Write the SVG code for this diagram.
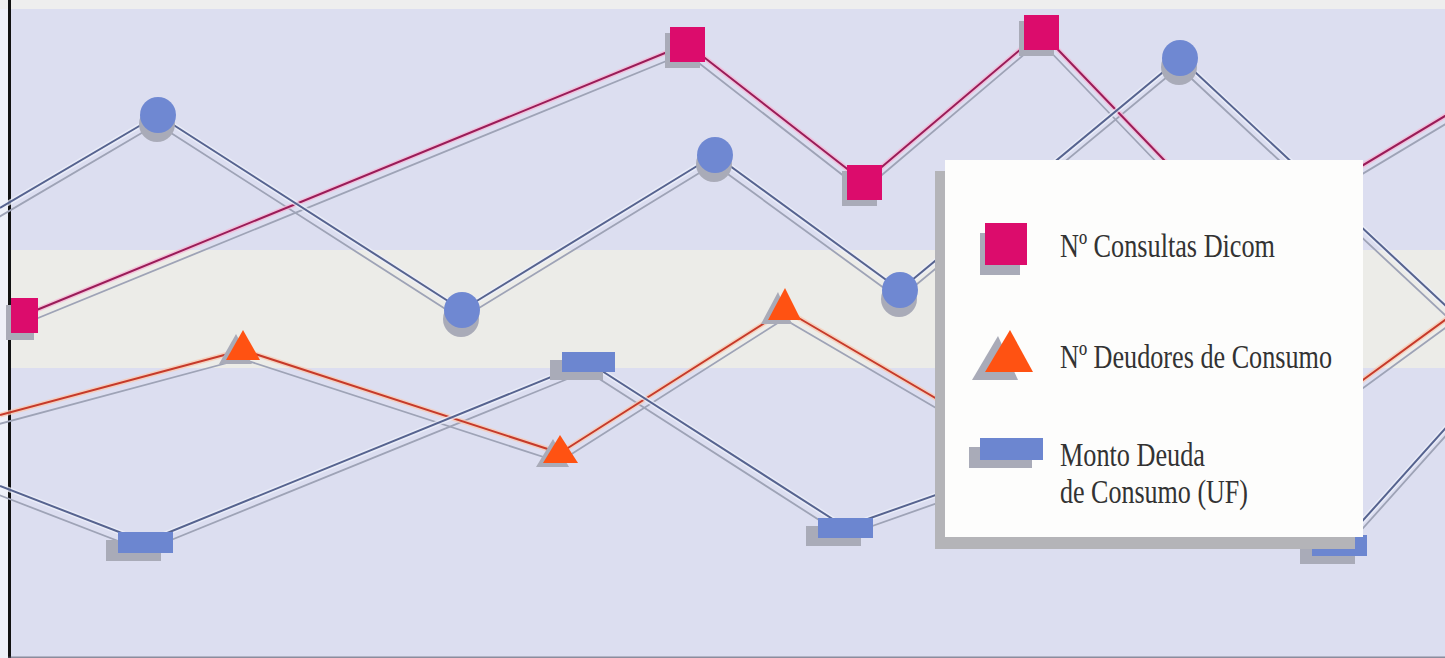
<svg xmlns="http://www.w3.org/2000/svg" width="1445" height="658" viewBox="0 0 1445 658">
  <style>
    .core { fill: none; stroke-width: 2; stroke-linejoin: round; }
    .halo { fill: none; stroke-width: 5; stroke-linejoin: round; opacity: 0.75; }
    .shade { fill: none; stroke: #9ea3b6; stroke-width: 1.8; stroke-linejoin: round; }
    .pk { stroke: #9a1c58; }
    .pkh { stroke: #f6b6d4; }
    .bl { stroke: #56638f; }
    .blh { stroke: #eef0fb; }
    .or { stroke: #c63a2a; }
    .orh { stroke: #f9c8b0; }
    .sq { fill: #dc0c6c; }
    .ci { fill: #6f88d2; }
    .tr { fill: #ff5212; }
    .re { fill: #6c86d0; }
    .sh { fill: #a9abb8; }
    .lbl { font-family: "Liberation Serif", "Times New Roman", serif; font-size: 33px; fill: #333333; }
  </style>

  <!-- background -->
  <rect x="0" y="0" width="1445" height="658" fill="#dcdef0"/>
  <rect x="0" y="0" width="1445" height="9" fill="#eeeeee"/>
  <rect x="10" y="250" width="1435" height="118" fill="#ecece8"/>
  <rect x="0" y="9" width="8" height="649" fill="#eef0f8"/>
  <rect x="8" y="0" width="3" height="658" fill="#111111"/>
  <rect x="8" y="656.5" width="1437" height="1.5" fill="#555566" opacity="0.6"/>

  <!-- connectors -->
  <g id="connectors">
    <g transform="translate(-1,9)">
      <polyline class="shade" points="22,316 687,44 864,182 1041,32 1240,239 1460,107"/>
      <polyline class="shade" points="0,208 158,115 462,310 715,155 900,290 1180,58 1460,319"/>
      <polyline class="shade" points="0,415 243,350 560,453 785,310 1159,529 1460,309"/>
      <polyline class="shade" points="0,486 145,542 588,362 845,527 1100,437 1340,546 1460,412"/>
    </g>
    <g id="series-dicom">
      <polyline class="halo pkh" points="22,316 687,44 864,182 1041,32 1240,239 1460,107"/>
      <polyline class="core pk" points="22,316 687,44 864,182 1041,32 1240,239 1460,107"/>
    </g>
    <g id="series-circles">
      <polyline class="halo blh" points="0,208 158,115 462,310 715,155 900,290 1180,58 1460,319"/>
      <polyline class="core bl" points="0,208 158,115 462,310 715,155 900,290 1180,58 1460,319"/>
    </g>
    <g id="series-deudores">
      <polyline class="halo orh" points="0,415 243,350 560,453 785,310 1159,529 1460,309"/>
      <polyline class="core or" points="0,415 243,350 560,453 785,310 1159,529 1460,309"/>
    </g>
    <g id="series-monto">
      <polyline class="halo blh" points="0,486 145,542 588,362 845,527 1100,437 1340,546 1460,412"/>
      <polyline class="core bl" points="0,486 145,542 588,362 845,527 1100,437 1340,546 1460,412"/>
    </g>
  </g>

  <!-- pink squares -->
  <g id="sq1"><rect class="sh" x="6" y="305" width="28" height="35"/><rect class="sq" x="11" y="298" width="27" height="35"/></g>
  <g id="sq2"><rect class="sh" x="665" y="33" width="35" height="35"/><rect class="sq" x="670" y="27" width="35" height="35"/></g>
  <g id="sq3"><rect class="sh" x="842" y="171" width="35" height="35"/><rect class="sq" x="847" y="165" width="35" height="35"/></g>
  <g id="sq4"><rect class="sh" x="1019" y="21" width="35" height="35"/><rect class="sq" x="1024" y="15" width="35" height="35"/></g>

  <!-- blue circles -->
  <g id="ci1"><circle class="sh" cx="157" cy="124" r="18"/><circle class="ci" cx="158" cy="115" r="18"/></g>
  <g id="ci2"><circle class="sh" cx="461" cy="319" r="18"/><circle class="ci" cx="462" cy="310" r="18"/></g>
  <g id="ci3"><circle class="sh" cx="714" cy="164" r="18"/><circle class="ci" cx="715" cy="155" r="18"/></g>
  <g id="ci4"><circle class="sh" cx="899" cy="299" r="18"/><circle class="ci" cx="900" cy="290" r="18"/></g>
  <g id="ci5"><circle class="sh" cx="1179" cy="67" r="18"/><circle class="ci" cx="1180" cy="58" r="18"/></g>

  <!-- orange triangles -->
  <g id="tr1"><polygon class="sh" points="236,334 219,364 252,364"/><polygon class="tr" points="243,330 226,360 260,360"/></g>
  <g id="tr2"><polygon class="sh" points="553,439 536,467 569,467"/><polygon class="tr" points="560,435 543,463 578,463"/></g>
  <g id="tr3"><polygon class="sh" points="778,292 761,324 792,324"/><polygon class="tr" points="785,288 768,320 801,320"/></g>

  <!-- blue rectangles -->
  <g id="re1"><rect class="sh" x="106" y="540" width="55" height="21"/><rect class="re" x="118" y="532" width="55" height="21"/></g>
  <g id="re2"><rect class="sh" x="550" y="360" width="53" height="20"/><rect class="re" x="562" y="352" width="53" height="20"/></g>
  <g id="re3"><rect class="sh" x="806" y="526" width="55" height="20"/><rect class="re" x="818" y="518" width="55" height="20"/></g>
  <g id="re4"><rect class="sh" x="1300" y="543" width="55" height="21"/><rect class="re" x="1312" y="535" width="55" height="21"/></g>

  <!-- legend -->
  <g id="legend">
    <rect x="935" y="171" width="420" height="378" fill="#b4b4b8"/>
    <rect x="945" y="160" width="418" height="377" fill="#fdfdfc"/>
    <g id="legend-dicom">
      <rect class="sh" x="980" y="233" width="40" height="42"/>
      <rect class="sq" x="985" y="223" width="42" height="42"/>
      <text class="lbl" x="1060" y="257" textLength="215" lengthAdjust="spacingAndGlyphs">Nº Consultas Dicom</text>
    </g>
    <g id="legend-deudores">
      <polygon class="sh" points="998,336 972,380 1018,380"/>
      <polygon class="tr" points="1010,330 985,372 1033,372"/>
      <text class="lbl" x="1060" y="368" textLength="272" lengthAdjust="spacingAndGlyphs">Nº Deudores de Consumo</text>
    </g>
    <g id="legend-monto">
      <rect class="sh" x="969" y="447" width="63" height="21"/>
      <rect class="re" x="980" y="438" width="63" height="22"/>
      <text class="lbl" x="1060" y="466" textLength="145" lengthAdjust="spacingAndGlyphs">Monto Deuda</text>
      <text class="lbl" x="1060" y="503" textLength="188" lengthAdjust="spacingAndGlyphs">de Consumo (UF)</text>
    </g>
  </g>
</svg>
